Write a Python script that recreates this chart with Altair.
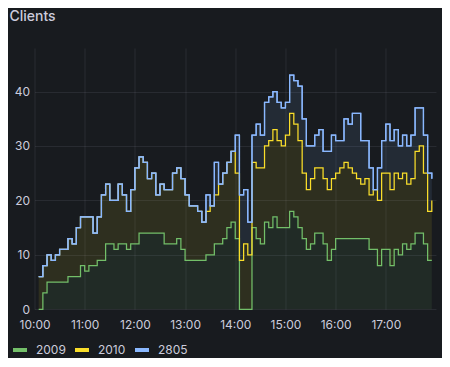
import altair as alt
import pandas as pd

TITLE = "Clients"
SERIES = ["2009", "2010", "2805"]
COLORS = ["#73BF69", "#FADE2A", "#8AB8FF"]
START = "2024-01-01 10:05"
STEP = "5min"
HOUR_TICKS = [10, 11, 12, 13, 14, 15, 16, 17]
Y_TICKS = [0, 10, 20, 30, 40]

s2009 = [0, 3, 5, 5, 5, 5, 5, 6, 6, 6,
         8, 7, 8, 8, 9, 9, 12, 12, 11, 12,
         12, 11, 12, 12, 14, 14, 14, 14, 14, 14,
         12, 12, 12, 13, 11, 9, 9, 9, 9, 9,
         10, 10, 12, 12, 13, 15, 16, 13, 0, 0,
         0, 15, 13, 12, 16, 15, 17, 15, 15, 15,
         18, 17, 15, 13, 11, 12, 14, 14, 12, 9,
         11, 13, 13, 13, 13, 13, 13, 13, 13, 11,
         11, 8, 11, 11, 8, 11, 10, 12, 11, 12,
         14, 14, 12, 9, 9]

s2010 = [6, 5, 5, 4, 5, 6, 6, 7, 6, 9,
         9, 10, 9, 6, 8, 12, 11, 8, 9, 11,
         9, 7, 10, 14, 14, 13, 10, 11, 7, 9,
         10, 10, 13, 13, 13, 12, 10, 10, 9, 7,
         8, 9, 9, 11, 12, 12, 13, 12, 9, 12,
         10, 12, 13, 14, 14, 16, 16, 16, 15, 17,
         18, 17, 16, 12, 11, 12, 12, 12, 12, 13,
         13, 12, 13, 14, 13, 12, 11, 10, 11, 10,
         11, 12, 14, 14, 14, 14, 14, 13, 12, 12,
         15, 16, 13, 9, 11]

s2805 = [0, 0, 0, 0, 0, 0, 0, 0, 0, 0,
         0, 0, 0, 0, 0, 0, 0, 0, 0, 0,
         0, 0, 0, 0, 0, 0, 0, 0, 0, 0,
         0, 0, 0, 0, 0, 0, 0, 0, 0, 0,
         3, 0, 6, 0, 0, 0, 0, 7, 12, 10,
         6, 5, 8, 6, 8, 8, 7, 7, 7, 6,
         7, 8, 10, 10, 8, 6, 6, 7, 5, 7,
         8, 6, 5, 8, 8, 11, 12, 8, 7, 5,
         0, 6, 6, 9, 9, 8, 6, 7, 7, 8,
         8, 7, 7, 7, 4]

times = pd.date_range(START, periods=len(s2009), freq=STEP)
rows = []
for order, (name, vals) in enumerate(zip(SERIES, [s2009, s2010, s2805])):
    for t, v in zip(times, vals):
        rows.append({"time": t.strftime("%Y-%m-%dT%H:%M:%S"),
                     "series": name, "order": order, "value": v})
df = pd.DataFrame(rows)

TEXT = "#ccccdc"
FONT = "Inter"

x_enc = alt.X(
    "time:T",
    scale=alt.Scale(domain=[alt.DateTime(year=2024, month=1, date=1, hours=10),
                            alt.DateTime(year=2024, month=1, date=1, hours=18)]),
    axis=alt.Axis(values=[alt.DateTime(year=2024, month=1, date=1, hours=h) for h in HOUR_TICKS],
                  format="%H:%M", title=None, ticks=False, domain=False,
                  labelFlush=False, labelPadding=10, labelColor=TEXT,
                  labelFont=FONT, labelFontSize=12,
                  grid=True, gridColor=TEXT, gridOpacity=0.1),
)
y_scale = alt.Scale(domain=[0, 48], nice=False)
y_axis = alt.Axis(values=Y_TICKS, title=None, ticks=False, domain=False,
                  labelPadding=5, labelColor=TEXT, labelFont=FONT, labelFontSize=12,
                  grid=True, gridColor=TEXT, gridOpacity=0.1)

color_scale = alt.Scale(domain=SERIES, range=COLORS)

base = alt.Chart(df).transform_stack(
    stack="value", as_=["y0", "y1"], groupby=["time"],
    sort=[alt.SortField("order", order="ascending")],
)

areas = base.mark_area(interpolate="step-after", fillOpacity=0.1).encode(
    x=x_enc,
    y=alt.Y("y1:Q", scale=y_scale, axis=y_axis),
    y2="y0:Q",
    color=alt.Color("series:N", scale=color_scale, legend=None),
)

legend = alt.Legend(orient="none", legendX=-23.5, legendY=293, direction="horizontal",
                    title=None, symbolType="stroke", symbolSize=196, symbolStrokeWidth=4,
                    labelColor=TEXT, labelFont=FONT, labelFontSize=12, labelOffset=7,
                    columnPadding=1, padding=0)

lines = base.mark_line(interpolate="step-after", strokeWidth=1.25).encode(
    x=x_enc,
    y=alt.Y("y1:Q", scale=y_scale, axis=y_axis),
    color=alt.Color("series:N", scale=color_scale, legend=legend),
)

# top series drawn once more so it fully covers the line beneath where they coincide
top_line = base.transform_filter(alt.datum.series == SERIES[-1]).mark_line(
    interpolate="step-after", strokeWidth=1.25
).encode(
    x=x_enc,
    y=alt.Y("y1:Q", scale=y_scale, axis=y_axis),
    color=alt.Color("series:N", scale=color_scale, legend=None),
)

title = alt.Chart(pd.DataFrame({"t": [TITLE]})).mark_text(
    align="left", baseline="middle", font=FONT, fontSize=14, fontWeight=500, color=TEXT
).encode(x=alt.value(-25), y=alt.value(-30.5), text="t:N")

chart = alt.layer(areas, lines, top_line, title).resolve_legend(color="independent").properties(
    width=401.5, height=261.3,
    padding={"left": 26.5, "top": 40, "right": 6, "bottom": 49},
    autosize="none",
    background="#181b1f",
).configure_view(stroke=None)

chart.save("out.html", embed_options={"renderer": "svg", "actions": False})
